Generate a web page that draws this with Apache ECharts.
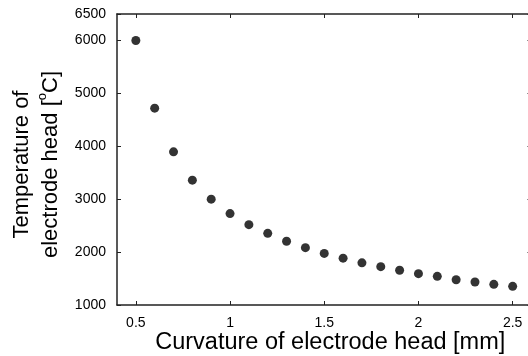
<!DOCTYPE html>
<html>
<head>
<meta charset="utf-8">
<script src="https://cdn.jsdelivr.net/npm/echarts@6/dist/echarts.min.js"></script>
<style>html,body{margin:0;padding:0;background:#fff}#c{width:528px;height:356px}</style>
</head>
<body>
<div id="c"></div>
<script>
const curvature = [0.5, 0.6, 0.7, 0.8, 0.9, 1.0, 1.1, 1.2, 1.3, 1.4, 1.5, 1.6, 1.7, 1.8, 1.9, 2.0, 2.1, 2.2, 2.3, 2.4, 2.5];
const temperature = [6000, 4720, 3895, 3360, 3000, 2728, 2518, 2355, 2205, 2084, 1975, 1885, 1797, 1725, 1656, 1592, 1542, 1478, 1435, 1390, 1353];
const xTickValues = [0.5, 1, 1.5, 2, 2.5];
const xTitle = 'Curvature of electrode head [mm]';
const yTitleLine1 = 'Temperature of';
const yTitleLine2 = 'electrode head [';

const FONT = 'Liberation Sans';
const chart = echarts.init(document.getElementById('c'));
const axisLine = {show: true, lineStyle: {color: '#222', width: 1.5}};
chart.setOption({
  animation: false,
  grid: {left: 117, top: 14, width: 414.5, height: 291, containLabel: false, outerBoundsMode: 'none'},
  xAxis: [{
    type: 'value', min: 0.4, max: 2.6, position: 'bottom',
    axisLine: axisLine,
    axisTick: {show: true, inside: true, length: 4, lineStyle: {color: '#222', width: 1}, customValues: xTickValues},
    axisLabel: {fontFamily: FONT, fontSize: 14, color: '#000', margin: 11, customValues: xTickValues,
      formatter: v => String(v)},
    splitLine: {show: false},
    name: xTitle, nameLocation: 'middle', nameGap: 26, nameMoveOverlap: false,
    nameTextStyle: {fontFamily: FONT, fontSize: 23.5, color: '#000', padding: [0, 0, 0, 12]}
  }, {
    type: 'value', min: 0.4, max: 2.6, position: 'top',
    axisLine: axisLine,
    axisTick: {show: true, inside: true, length: 4, lineStyle: {color: '#222', width: 1}, customValues: xTickValues},
    axisLabel: {show: false}, splitLine: {show: false}
  }],
  yAxis: [{
    type: 'value', min: 1000, max: 6500, interval: 1000, position: 'left',
    axisLine: axisLine,
    axisTick: {show: true, inside: true, length: 4, lineStyle: {color: '#222', width: 1}},
    axisLabel: {fontFamily: FONT, fontSize: 14, color: '#000', margin: 11, formatter: v => String(v)},
    splitLine: {show: false},
    name: '{a|' + yTitleLine1 + '}\n{a|' + yTitleLine2 + '}{s|o}{a|C]}',
    nameLocation: 'middle', nameGap: 52, nameRotate: 90, nameMoveOverlap: false,
    nameTextStyle: {fontFamily: FONT, fontSize: 22, color: '#000', lineHeight: 29, padding: [0, 10, 0, 0],
      rich: {a: {fontFamily: FONT, fontSize: 22, color: '#000', lineHeight: 29},
             s: {fontFamily: FONT, fontSize: 13, color: '#000', lineHeight: 29, verticalAlign: 'top'}}}
  }, {
    type: 'value', min: 1000, max: 6500, interval: 1000, position: 'right',
    axisLine: axisLine,
    axisTick: {show: true, inside: true, length: 4, lineStyle: {color: '#222', width: 1}},
    axisLabel: {show: false}, splitLine: {show: false}
  }],
  series: [{
    type: 'scatter', xAxisIndex: 0, yAxisIndex: 0,
    data: curvature.map((x, i) => [x, temperature[i]]),
    symbol: 'circle', symbolSize: 9,
    itemStyle: {color: '#000'}
  }]
});
</script>
</body>
</html>
